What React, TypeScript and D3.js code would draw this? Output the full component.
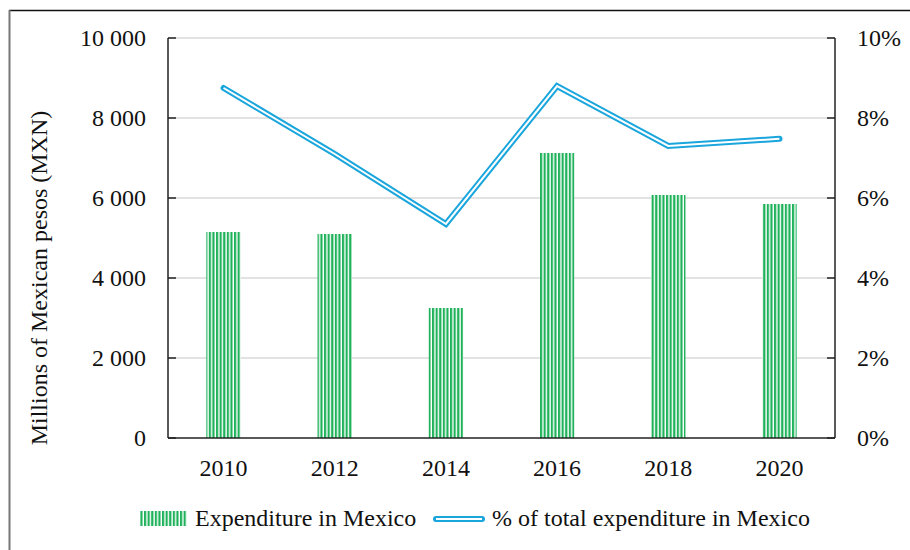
import React from "react";
import * as d3 from "d3";

const years = ["2010", "2012", "2014", "2016", "2018", "2020"];
const expenditure = [5150, 5100, 3250, 7125, 6075, 5850];
const sharePct = [8.75, 7.1, 5.35, 8.8, 7.3, 7.48];
const leftTicks = [0, 2000, 4000, 6000, 8000, 10000];
const rightTicks = [0, 2, 4, 6, 8, 10];

const W = 910, H = 550;
const M = { left: 168, right: 835, top: 38, bottom: 438 };
const FONT = "'Liberation Serif', 'DejaVu Serif', serif";
const GREEN = "#1fb25a";
const BLUE = "#1aa6dc";

const fmt = (v: number) => d3.format(",")(v).replace(/,/g, " ");

export default function App() {
  const x = d3.scaleBand<string>().domain(years).range([M.left, M.right]).paddingInner(0.69).paddingOuter(0.345);
  const y = d3.scaleLinear().domain([0, 10000]).range([M.bottom, M.top]);
  const y2 = d3.scaleLinear().domain([0, 10]).range([M.bottom, M.top]);
  const line = d3
    .line<number>()
    .x((_, i) => (x(years[i]) as number) + x.bandwidth() / 2)
    .y((d) => y2(d));
  const path = line(sharePct) || "";

  return (
    <svg width={W} height={H} style={{ position: "absolute", left: 0, top: 0, background: "#fff" }} fontFamily={FONT}>
      <defs>
        <pattern id="stripes" patternUnits="userSpaceOnUse" width={3.6} height={10} x={0}>
          <rect x={0} y={0} width={3.6} height={10} fill="#fff" />
          <rect x={0} y={0} width={2.2} height={10} fill={GREEN} />
        </pattern>
      </defs>
      {/* outer frame */}
      <line x1={9} x2={W} y1={10.5} y2={10.5} stroke="#111" strokeWidth={1.5} />
      <line x1={9.5} x2={9.5} y1={10} y2={H} stroke="#777" strokeWidth={2} />

      {/* gridlines */}
      {leftTicks.slice(1).map((t) => (
        <line key={t} x1={M.left} x2={M.right} y1={y(t)} y2={y(t)} stroke="#d9d9d9" strokeWidth={1.5} />
      ))}

      {/* bars */}
      {expenditure.map((v, i) => (
        <rect
          key={years[i]}
          x={x(years[i])}
          y={y(v)}
          width={x.bandwidth()}
          height={y(0) - y(v)}
          fill="url(#stripes)"
        />
      ))}

      {/* line */}
      <path d={path} fill="none" stroke={BLUE} strokeWidth={6} strokeLinejoin="miter" strokeLinecap="round" />
      <path d={path} fill="none" stroke="#fff" strokeWidth={2} strokeLinejoin="miter" />

      {/* axes */}
      <line x1={M.left} x2={M.left} y1={M.top} y2={M.bottom} stroke="#222" strokeWidth={1.5} />
      <line x1={M.right} x2={M.right} y1={M.top} y2={M.bottom} stroke="#222" strokeWidth={1.5} />
      <line x1={M.left} x2={M.right} y1={M.bottom} y2={M.bottom} stroke="#222" strokeWidth={1.5} />
      {leftTicks.map((t) => (
        <g key={"l" + t}>
          <line x1={M.left} x2={M.left + 8} y1={y(t)} y2={y(t)} stroke="#222" strokeWidth={1.5} />
          <text x={146} y={y(t)} dy="0.35em" textAnchor="end" fontSize={24} fill="#111">
            {fmt(t)}
          </text>
        </g>
      ))}
      {rightTicks.map((t) => (
        <g key={"r" + t}>
          <line x1={M.right - 8} x2={M.right} y1={y2(t)} y2={y2(t)} stroke="#222" strokeWidth={1.5} />
          <text x={857} y={y2(t)} dy="0.35em" textAnchor="start" fontSize={24} fill="#111">
            {t + "%"}
          </text>
        </g>
      ))}
      {years.map((yr) => (
        <text key={yr} x={(x(yr) as number) + x.bandwidth() / 2} y={476} textAnchor="middle" fontSize={24} fill="#111">
          {yr}
        </text>
      ))}

      {/* y title */}
      <text transform="translate(47,278) rotate(-90)" textAnchor="middle" fontSize={24} fill="#111">
        Millions of Mexican pesos (MXN)
      </text>

      {/* legend */}
      <rect x={140} y={511} width={47} height={15} fill="url(#stripes)" />
      <text x={195} y={526} fontSize={24} fill="#111">Expenditure in Mexico</text>
      <line x1={436} x2={482} y1={519} y2={519} stroke={BLUE} strokeWidth={6} strokeLinecap="round" />
      <line x1={436} x2={482} y1={519} y2={519} stroke="#fff" strokeWidth={2} />
      <text x={492} y={526} fontSize={24} fill="#111">% of total expenditure in Mexico</text>
    </svg>
  );
}
